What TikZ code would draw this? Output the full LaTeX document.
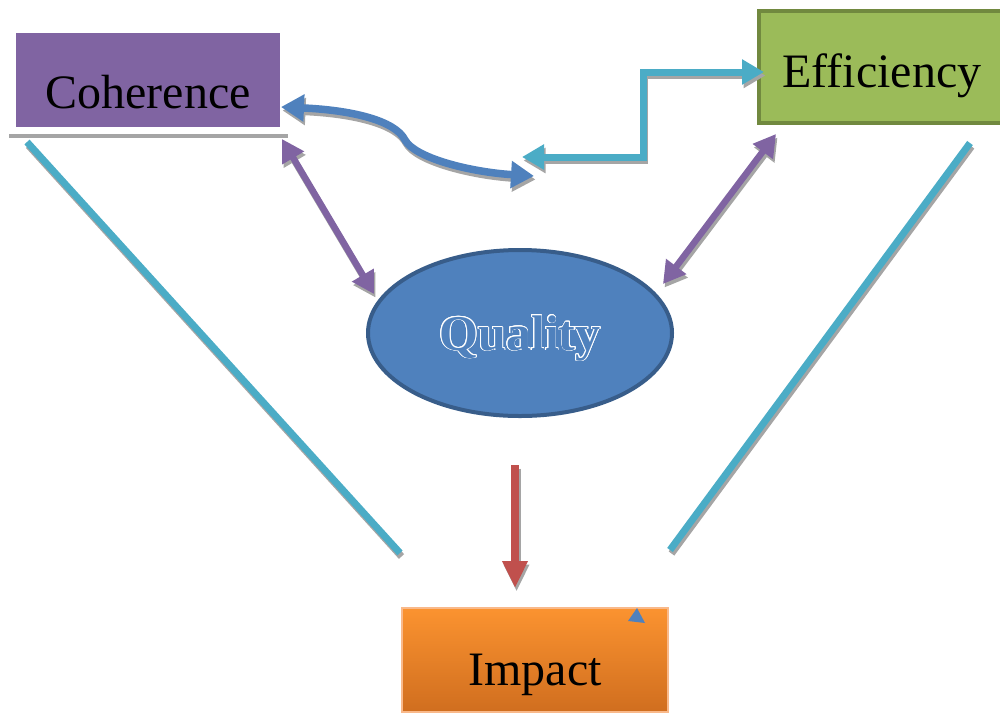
\documentclass[tikz,border=0pt]{standalone}
\usepackage{fontspec}
\setmainfont{Liberation Serif}
\usepackage{contour}
\usetikzlibrary{arrows.meta, shapes.geometric}
\definecolor{cohpurple}{HTML}{8064A2}
\definecolor{effgreen}{HTML}{9BBB59}
\definecolor{effborder}{HTML}{71893F}
\definecolor{qualblue}{HTML}{4F81BD}
\definecolor{qualborder}{HTML}{385D8A}
\definecolor{linkcyan}{HTML}{4BACC6}
\definecolor{linkred}{HTML}{C0504D}
\definecolor{imptop}{HTML}{FB9330}
\definecolor{impbot}{HTML}{D06E1F}
\definecolor{impborder}{HTML}{F9B98A}
\definecolor{shadowgray}{HTML}{A5A5A5}
\contourlength{0.7pt}

\begin{document}
\begin{tikzpicture}[x=1pt,y=-1pt,
  box/.style={rectangle, inner sep=0pt, font=\fontsize{48}{52}\selectfont},
  shadowed/.style={preaction={draw=shadowgray, line width=#1,
    transform canvas={shift={(1.5pt,-3.5pt)}}}, line width=#1},
  duo/.style={shadowed=6.5pt, draw=cohpurple,
    {Triangle[length=22pt,width=24pt]}-{Triangle[length=22pt,width=24pt]}}]
  \useasboundingbox (0,0) rectangle (1000,713);

  % boxes
  \fill[shadowgray] (9,131) rectangle (288,138);
  \fill[white] (9,28) rectangle (288,134);
  \node[box, fill=cohpurple, minimum width=264pt, text height=75pt, text depth=19pt]
    (coh) at (148,80) {Coherence};
  \node[box, fill=effgreen, draw=effborder, line width=4pt, minimum width=246pt,
    text height=76pt, text depth=36pt] (eff) at (882,67) {Efficiency};
  \node[ellipse, inner sep=0pt, fill=qualblue, draw=qualborder, line width=4pt,
    minimum width=304pt, minimum height=166pt, text=qualblue, text height=34pt,
    text depth=0pt, font=\fontsize{50}{54}\selectfont\bfseries]
    (qual) at (520,333) {\contour{white}{Quality}};
  \node[box, top color=imptop, bottom color=impbot, draw=impborder, line width=1.2pt,
    minimum width=266pt, text height=77pt, text depth=27pt] (imp) at (535,660) {Impact};
  \fill[qualblue] (637,608) -- (628,621) -- (645,623) -- cycle;

  % free ends
  \coordinate (cohB) at (281,107);
  \coordinate (midB) at (534,176);
  \coordinate (midC) at (522,157);
  \coordinate (bend) at (643,72);
  \coordinate (effC) at (764,72);
  \coordinate (cohP) at (282,139);
  \coordinate (qualP) at (374,294);
  \coordinate (effP) at (776,134);
  \coordinate (qualQ) at (663,284);
  \coordinate (cohL) at (27,142);
  \coordinate (impL) at (400,553);
  \coordinate (effL) at (970,143);
  \coordinate (impR) at (670,550);
  \coordinate (qualR) at (515,465);
  \coordinate (impT) at (515,588);

  % connectors
  \draw[shadowed=7.5pt, draw=qualblue, {Triangle[length=23pt,width=26pt]}-{Triangle[length=23pt,width=26pt]}]
    (cohB) .. controls (350,110) and (395,120) .. (405,140)
    .. controls (415,158) and (470,172) .. (midB);
  \draw[shadowed=7pt, draw=linkcyan, {Triangle[length=22pt,width=24pt]}-{Triangle[length=22pt,width=24pt]}]
    (midC) -| (bend) -- (effC);
  \draw[duo] (cohP) -- (qualP);
  \draw[duo] (effP) -- (qualQ);
  \draw[shadowed=7pt, draw=linkcyan] (cohL) -- (impL);
  \draw[shadowed=7pt, draw=linkcyan] (effL) -- (impR);
  \draw[shadowed=8.5pt, draw=linkred, -{Triangle[length=27pt,width=24pt]}]
    (qualR) -- (impT);
\end{tikzpicture}
\end{document}
